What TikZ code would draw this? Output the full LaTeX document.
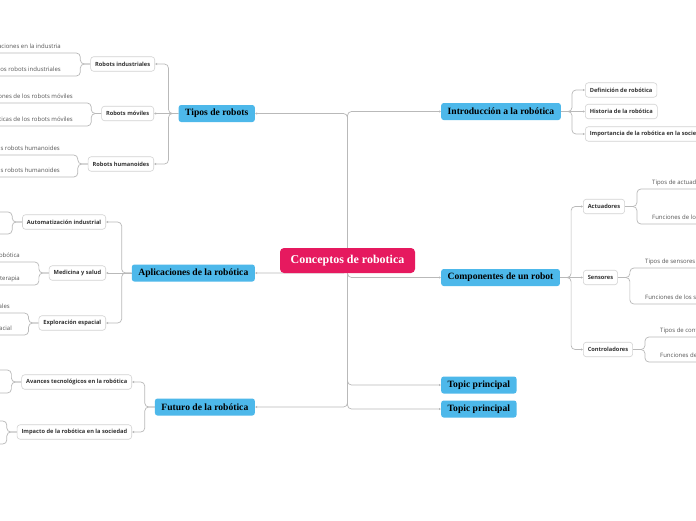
\documentclass[tikz,border=0pt]{standalone}
\usepackage{fontspec}
\usepackage{xcolor}
\usepackage{tikz}
\usetikzlibrary{calc, positioning, backgrounds, arrows.meta}

\newfontfamily\slab{Liberation Serif}
\newfontfamily\mindo{Open Sans}

\definecolor{rosa}{HTML}{E6195F}
\definecolor{celeste}{HTML}{4DB8EA}
\definecolor{gris}{HTML}{B9B9B9}
\definecolor{borde}{HTML}{D2D2D2}
\definecolor{texto}{HTML}{333333}
\definecolor{textohoja}{HTML}{555555}

\begin{document}
\begin{tikzpicture}[x=1pt, y=-1pt, >={Latex[length=2pt,width=2.4pt]},
    raiz/.style={fill=rosa, rounded corners=4pt, minimum width=135pt, minimum height=25pt,
        text=white, font=\slab\bfseries\fontsize{12}{12}\selectfont},
    tema/.style={fill=celeste, rounded corners=2.5pt, minimum height=17pt, inner xsep=6.5pt,
        text=black, font=\slab\bfseries\fontsize{9.6}{9.6}\selectfont},
    subtema/.style={draw=borde, line width=0.6pt, fill=white, rounded corners=3pt, minimum height=14.5pt,
        inner xsep=4.5pt, text=texto, font=\mindo\bfseries\fontsize{5.7}{5.7}\selectfont},
    hoja/.style={inner xsep=0pt, inner ysep=3.5pt, text depth=1.3pt, text=textohoja,
        font=\mindo\fontsize{6}{6}\selectfont},
    rama/.style={draw=gris, line width=0.7pt, rounded corners=4pt}]

    \useasboundingbox (0,0) rectangle (696,520);
    \clip (0,0) rectangle (696,520);

    % Tema central
    \node[raiz] (raiz) at (347.5,260.5) {Conceptos de robotica};

    % Temas principales (izquierda)
    \node[tema, anchor=east] (tipos) at (255,113.5) {Tipos de robots};
    \node[tema, anchor=east] (apli) at (255,273) {Aplicaciones de la robótica};
    \node[tema, anchor=east] (futuro) at (255,407) {Futuro de la robótica};

    % Temas principales (derecha)
    \node[tema, anchor=west] (intro) at (441,111.5) {Introducción a la robótica};
    \node[tema, anchor=west] (comp) at (441,277.5) {Componentes de un robot};
    \node[tema, anchor=west] (topicA) at (441,385) {Topic principal};
    \node[tema, anchor=west] (topicB) at (441,409) {Topic principal};

    % Subtemas
    \node[subtema, anchor=east] (indus) at (155,64) {Robots industriales};
    \node[subtema, anchor=east] (movil) at (154,113.5) {Robots móviles};
    \node[subtema, anchor=east] (human) at (154,164) {Robots humanoides};
    \node[subtema, anchor=east] (autom) at (106,222) {Automatización industrial};
    \node[subtema, anchor=east] (medic) at (106,273) {Medicina y salud};
    \node[subtema, anchor=east] (explo) at (106,323) {Exploración espacial};
    \node[subtema, anchor=east] (avanc) at (132,382) {Avances tecnológicos en la robótica};
    \node[subtema, anchor=east] (impac) at (132,432) {Impacto de la robótica en la sociedad};

    \node[subtema, anchor=west] (defin) at (585,90) {Definición de robótica};
    \node[subtema, anchor=west] (histo) at (585,111.5) {Historia de la robótica};
    \node[subtema, anchor=west] (impor) at (585,134) {Importancia de la robótica en la sociedad};
    \node[subtema, anchor=west] (actua) at (583,206.5) {Actuadores};
    \node[subtema, anchor=west] (senso) at (583,277.5) {Sensores};
    \node[subtema, anchor=west] (contr) at (583,349.5) {Controladores};

    % Hojas
    \node[hoja, anchor=south east] (indusA) at (61,53) {Aplicaciones en la industria};
    \node[hoja, anchor=south east] (indusB) at (61,76) {Ventajas de los robots industriales};
    \node[hoja, anchor=south east] (movilA) at (73,103) {Aplicaciones de los robots móviles};
    \node[hoja, anchor=south east] (movilB) at (73,126) {Características de los robots móviles};
    \node[hoja, anchor=south east] (humanA) at (60,155) {Características de los robots humanoides};
    \node[hoja, anchor=south east] (humanB) at (60,177) {Aplicaciones de los robots humanoides};
    \node[hoja, anchor=south east] (medicA) at (20,262) {Cirugía robótica};
    \node[hoja, anchor=south east] (medicB) at (20,285) {Robots de terapia};
    \node[hoja, anchor=south east] (exploA) at (10,313) {Misiones espaciales};
    \node[hoja, anchor=south east] (exploB) at (12,335) {Robótica espacial};
    \coordinate (automA) at (-40,212);
    \coordinate (automB) at (-40,234);
    \coordinate (avancA) at (-40,370);
    \coordinate (avancB) at (-40,393);
    \coordinate (impacA) at (-40,421);
    \coordinate (impacB) at (-40,444);

    \node[hoja, anchor=south west] (actuaA) at (652,189) {Tipos de actuadores};
    \node[hoja, anchor=south west] (actuaB) at (652,224) {Funciones de los actuadores};
    \node[hoja, anchor=south west] (sensoA) at (645,268) {Tipos de sensores};
    \node[hoja, anchor=south west] (sensoB) at (645,304) {Funciones de los sensores};
    \node[hoja, anchor=south west] (contrA) at (660,337) {Tipos de controladores};
    \node[hoja, anchor=south west] (contrB) at (660,362) {Funciones de los controladores};

    \begin{pgfonlayer}{background}
    \clip (0,0) rectangle (696,520);
    \fill[white] (0,0) rectangle (696,520);

    % Ramas del tema central
    \draw[rama, ->] (raiz.center) |- (tipos.east);
    \draw[rama, ->] (raiz.center) |- (apli.east);
    \draw[rama, ->] (raiz.center) |- (futuro.east);
    \draw[rama, ->] (raiz.center) |- (intro.west);
    \draw[rama, ->] (raiz.center) |- (comp.west);
    \draw[rama, ->] (raiz.center) |- (topicA.west);
    \draw[rama, ->] (raiz.center) |- (topicB.west);

    % Ramas de los temas principales
    \draw[rama, ->] (tipos.west) -- ++(-10,0) |- (indus.east);
    \draw[rama, ->] (tipos.west) -- (movil.east);
    \draw[rama, ->] (tipos.west) -- ++(-10,0) |- (human.east);
    \draw[rama, ->] (apli.west) -- ++(-10,0) |- (autom.east);
    \draw[rama, ->] (apli.west) -- (medic.east);
    \draw[rama, ->] (apli.west) -- ++(-10,0) |- (explo.east);
    \draw[rama, ->] (futuro.west) -- ++(-10,0) |- (avanc.east);
    \draw[rama, ->] (futuro.west) -- ++(-10,0) |- (impac.east);
    \draw[rama, ->] (intro.east) -- ++(11,0) |- (defin.west);
    \draw[rama, ->] (intro.east) -- (histo.west);
    \draw[rama, ->] (intro.east) -- ++(11,0) |- (impor.west);
    \draw[rama, ->] (comp.east) -- ++(11,0) |- (actua.west);
    \draw[rama, ->] (comp.east) -- (senso.west);
    \draw[rama, ->] (comp.east) -- ++(11,0) |- (contr.west);

    % Ramas de los subtemas
    \foreach \s/\h in {indus/indusA, indus/indusB, movil/movilA, movil/movilB,
            human/humanA, human/humanB, medic/medicA, medic/medicB,
            explo/exploA, explo/exploB}
        \draw[rama] (\s.west) -- ++(-10,0) |- (\h.south west);
    \foreach \s/\h in {autom/automA, autom/automB, avanc/avancA, avanc/avancB,
            impac/impacA, impac/impacB}
        \draw[rama] (\s.west) -- ++(-10,0) |- (\h);
    \foreach \s/\h in {actua/actuaA, actua/actuaB, senso/sensoA, senso/sensoB,
            contr/contrA, contr/contrB}
        \draw[rama] (\s.east) -- ++(12,0) |- (\h.south east);
    \end{pgfonlayer}
\end{tikzpicture}
\end{document}
